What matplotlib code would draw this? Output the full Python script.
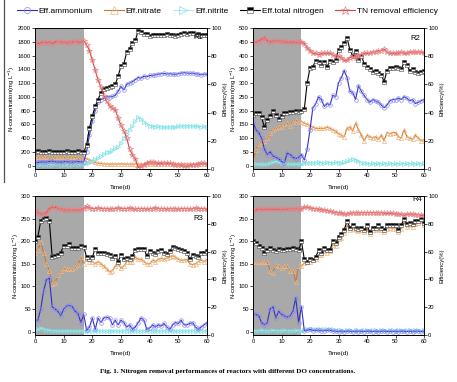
import matplotlib
matplotlib.use("Agg")
import matplotlib.pyplot as plt
from matplotlib.lines import Line2D
import numpy as np

plt.rcParams["font.family"] = ["Liberation Sans", "DejaVu Sans"]

days = list(range(61))

# ---------------- R1 ----------------
tn1 = [200,205,200,195,200,205,200,195,190,195,200,205,195,200,200,210,200,195,
       300,550,720,860,960,1060,1110,1130,1140,1160,
       1180,1300,1450,1480,1650,1700,1780,1820,1960,1940,
       1920,1910,1890,1895,1900,1905,1895,1900,1910,1900,
       1895,1890,1900,1920,1925,1920,1930,1925,1900,1910,
       1905,1900,1900]
nh1 = [40,45,50,55,50,60,65,55,50,50,55,60,55,50,55,60,55,50,
       200,450,650,800,920,960,980,1000,1000,1005,
       1020,1080,1150,1100,1180,1200,1220,1250,1280,1270,
       1300,1290,1310,1310,1320,1330,1335,1340,1330,1335,
       1330,1325,1335,1345,1350,1345,1340,1345,1335,1330,
       1320,1330,1325]
no3_1 = [130,120,125,130,120,125,115,120,125,130,120,115,120,125,120,115,110,105,
         100,80,60,45,35,30,25,22,20,22,
         20,22,25,20,22,20,22,25,22,20,
         22,20,22,25,22,20,22,20,22,25,
         22,20,22,20,25,22,20,22,25,22,
         20,22,20]
no2_1 = [15,15,20,15,20,15,15,20,20,15,15,20,15,15,20,15,20,20,
         30,40,60,90,110,140,170,200,200,220,
         250,270,330,400,460,520,580,650,700,680,
         640,600,580,570,565,570,560,555,560,560,
         565,560,570,575,580,575,580,575,570,570,
         565,570,565]
eff1 = [90,89,89.5,90,89.5,90,89,90,90.5,90,90,89.5,90,90,90.5,90,90,91,
        88,84,77,70,63,58,52,48,45,43,
        42,36,31,27,22,14,10,7,1,2,
        3,4,5,5,4.5,4,4,4.5,4,4,
        3.5,3,3,2.5,2,2,2.5,3,3,3.5,
        4,4,3.5]

# ---------------- R2 ----------------
tn2 = [185,190,190,175,140,165,180,200,185,170,180,190,190,195,195,200,195,200,
       205,300,355,360,380,375,365,375,360,380,
       375,385,420,430,445,465,420,400,415,385,
       400,370,360,350,340,345,335,330,305,345,
       355,355,360,355,350,375,365,345,350,340,
       335,340,345]
nh2 = [160,130,120,100,60,40,50,35,30,25,15,10,45,40,30,25,30,40,
       20,60,130,210,225,250,240,215,225,220,
       255,250,300,320,345,320,270,265,240,290,
       270,255,240,230,240,235,230,220,210,220,
       235,240,240,245,240,250,245,235,240,225,
       230,235,240]
no3_2 = [20,55,80,85,90,100,120,130,135,140,140,150,155,145,160,165,160,160,
         155,150,145,140,135,135,135,135,140,135,
         130,125,115,110,105,135,140,125,155,130,
         110,90,110,105,100,105,95,110,90,120,
         115,120,120,105,100,130,105,100,95,110,
         100,90,95]
no2_2 = [5,5,5,5,5,5,10,12,15,12,10,12,5,5,5,5,5,5,
         8,8,10,10,10,12,10,10,12,10,
         10,12,10,10,12,15,20,25,20,15,
         10,8,8,5,8,5,8,5,8,5,
         8,5,8,5,8,5,8,5,8,5,
         8,5,8]
eff2 = [90,90,91,92,93,91,90,91,91,91,91,90,90,90,90,90,90,90,
        89,86,84,82,82,81,82,82,82,82,
        81,80,80,79,77,77,79,80,79,81,
        81,82,82,82,83,83,84,84,85,83,
        82,82,82,82,83,82,82,83,83,83,
        83,83,82]

# ---------------- R3 ----------------
tn3 = [200,210,245,250,252,245,165,168,170,175,190,190,193,185,185,185,190,188,
       165,160,165,183,175,175,175,172,170,162,
       168,155,170,160,163,160,168,180,183,183,
       183,168,178,175,172,178,180,175,172,178,
       187,185,183,180,178,175,160,170,168,165,
       175,175,178]
nh3 = [25,25,50,90,115,118,55,50,45,35,50,57,58,55,45,40,20,38,
       3,10,30,5,30,20,30,32,30,15,
       25,15,25,20,10,15,5,10,20,30,
       25,5,8,15,10,15,12,18,10,5,
       15,20,18,25,15,15,18,20,10,5,
       10,15,20]
no3_3 = [175,180,198,175,150,135,105,108,125,135,140,138,138,138,142,148,165,150,
         160,155,155,150,155,150,145,138,132,135,
         145,150,140,145,155,155,155,165,160,160,
         155,150,150,158,155,160,162,160,162,165,
         168,165,160,158,158,160,150,148,150,155,
         158,155,160]
no2_3 = [2,5,8,6,4,3,2,2,1,1,2,1,1,2,1,1,2,1,
         1,2,1,2,1,2,1,1,2,1,
         2,1,1,2,1,1,2,1,1,2,
         1,1,2,1,1,2,1,2,1,1,
         2,1,1,2,1,1,2,1,1,2,
         1,1,2]
eff3 = [90,88,87,87,88,91,92,92,91,91,90,90,90,90,90,90,90,91,
        92.5,91.5,91,91,91.5,91,91,91,90.5,91,
        91,91.5,91,91,91,91.5,91,90.5,91,91,
        91,90.5,91,91,91.5,91,91,91,90.5,91,
        91,91,90.5,91,91,91,90.5,91,91.5,91,
        91,91,90.5]

# ---------------- R4 ----------------
tn4 = [200,195,190,185,175,180,185,180,178,182,180,180,182,182,185,182,180,200,
       160,155,160,158,165,180,175,185,180,180,
       200,195,210,215,225,245,230,235,230,228,
       230,225,235,220,230,230,235,230,225,235,
       235,235,235,225,235,250,238,240,238,245,
       245,250,240]
nh4 = [40,38,35,20,15,20,50,55,30,45,38,35,32,35,45,75,20,55,
       2,3,5,2,3,3,2,2,3,3,
       1,1,0,1,0,1,1,0,1,0,
       1,0,1,1,0,1,0,1,1,0,
       1,0,1,0,1,1,0,1,0,1,
       1,0,1]
no3_4 = [155,155,155,155,155,155,135,130,148,145,140,145,145,135,135,110,145,145,
         152,155,155,158,160,170,170,178,175,178,
         192,190,205,208,218,235,225,228,225,222,
         225,220,228,215,225,225,228,225,220,228,
         230,228,230,220,228,242,232,235,232,238,
         240,245,235]
no2_4 = [2,2,2,3,2,2,2,3,2,2,2,3,2,2,2,3,2,2,
         4,5,5,6,5,5,6,5,5,6,
         5,4,3,3,2,3,3,2,3,3,
         2,3,3,2,3,3,2,3,3,2,
         3,3,2,3,3,2,3,3,2,3,
         3,2,3]
eff4 = [89,90,90.5,90.5,90.5,90.5,90.5,90.5,90.5,90.5,90.5,90.5,90.5,91,91,91,91,90.5,
        92,92,91.5,91,91,90.5,90,90,89.5,89,
        88.5,88,88,87.5,87,87,87.5,88,88,88,
        88,88,88,88,88,88,88,88,87.5,87.5,
        87.5,87.5,87,87,87,86,87,87,87,86.5,
        86.5,86,86]

panels = [
    ("R1", tn1, nh1, no3_1, no2_1, eff1, 2000, 200, (57.0, 1860)),
    ("R2", tn2, nh2, no3_2, no2_2, eff2, 500, 50, (57.0, 462)),
    ("R3", tn3, nh3, no3_3, no2_3, eff3, 300, 50, (57.0, 250)),
    ("R4", tn4, nh4, no3_4, no2_4, eff4, 300, 50, (57.5, 292)),
]

W, H = 457, 382
fig = plt.figure(figsize=(W / 100, H / 100), dpi=100)

rects = [
    (35, 28, 207, 169),
    (253, 28, 424, 169),
    (35, 196, 207, 335),
    (253, 196, 424, 335),
]

C_NH = "#3030c8"
C_NH_M = "#8a8af0"
C_NO3 = "#c87a38"
C_NO3_M = "#f0b880"
C_NO2 = "#a8f0f0"
C_NO2_M = "#80e0e8"
C_TN = "black"
C_EFF = "#c84848"
C_EFF_M = "#e88080"

fs_tick = 4.2
fs_lab = 4.2
handles = None
for (name, tn, nh, no3, no2, eff, ymax, ystep, lblpos), (x0, y0, x1, y1) in zip(panels, rects):
    ax = fig.add_axes([x0 / W, 1 - y1 / H, (x1 - x0) / W, (y1 - y0) / H])
    ax.axvspan(0, 17, color="#a9a9a9", zorder=0, lw=0)
    lw = 0.8
    ms = 2.6
    l_nh, = ax.plot(days, nh, color=C_NH, lw=lw, marker="o", ms=ms, mfc="none",
                    mec=C_NH_M, mew=0.5, label="Eff.ammonium", zorder=4)
    l_no3, = ax.plot(days, no3, color=C_NO3, lw=lw, marker="^", ms=ms + 0.4, mfc="none",
                     mec=C_NO3_M, mew=0.5, label="Eff.nitrate", zorder=3)
    l_no2, = ax.plot(days, no2, color=C_NO2, lw=lw, marker=">", ms=ms + 0.4, mfc="none",
                     mec=C_NO2_M, mew=0.5, label="Eff.nitrite", zorder=3)
    l_tn, = ax.plot(days, tn, color=C_TN, lw=lw, marker="s", ms=ms, fillstyle="top",
                    mfc="black", mfcalt="white", mec="#404040", mew=0.4,
                    label="Eff.total nitrogen", zorder=5)
    ax.set_xlim(0, 60)
    ax.set_ylim(-0.025 * ymax, ymax)
    ax.set_xticks(range(0, 61, 10))
    ax.set_yticks(np.arange(0, ymax + 1, ystep))
    ax.tick_params(labelsize=fs_tick, length=2.2, width=0.5, pad=0.8, direction="out")
    for s in ax.spines.values():
        s.set_linewidth(0.6)
    ax.set_xlabel("Time(d)", fontsize=fs_lab + 0.3, labelpad=5)
    ax.set_ylabel("N-concentration(mg L$^{-1}$)", fontsize=fs_lab, labelpad=0.3)
    ax.text(lblpos[0], lblpos[1], name, fontsize=5.5, ha="center", va="center", zorder=6)

    ax2 = ax.twinx()
    l_eff, = ax2.plot(days, eff, color=C_EFF, lw=lw, marker="*", ms=ms + 1.2, mfc="none",
                      mec=C_EFF_M, mew=0.5, label="TN removal efficiency")
    ax2.set_ylim(0, 100)
    ax2.set_yticks(range(0, 101, 20))
    ax2.tick_params(labelsize=fs_tick, length=2.2, width=0.5, pad=0.8, direction="out")
    for s in ax2.spines.values():
        s.set_linewidth(0.6)
    ax2.set_ylabel("Efficiency(%)", fontsize=fs_lab, labelpad=0.8)
    if handles is None:
        handles = [l_nh, l_no3, l_no2, l_tn, l_eff]

fig.legend(handles=handles, loc="center", bbox_to_anchor=(0.497, 1 - 11 / H), ncol=5,
           frameon=False, fontsize=6.0, handlelength=2.4, columnspacing=1.4,
           handletextpad=0.2, markerscale=1.7, borderpad=0.1)

fig.add_artist(Line2D([0.009, 0.009], [1 - 182 / H, 1.0], color="#505050", lw=0.9))

fig.text(0.497, 1 - 371 / H,
         "Fig. 1. Nitrogen removal performances of reactors with different DO concentrations.",
         fontsize=5.1, fontweight="bold", family="Liberation Serif", ha="center", va="center")

fig.savefig("out.png", dpi=100)
